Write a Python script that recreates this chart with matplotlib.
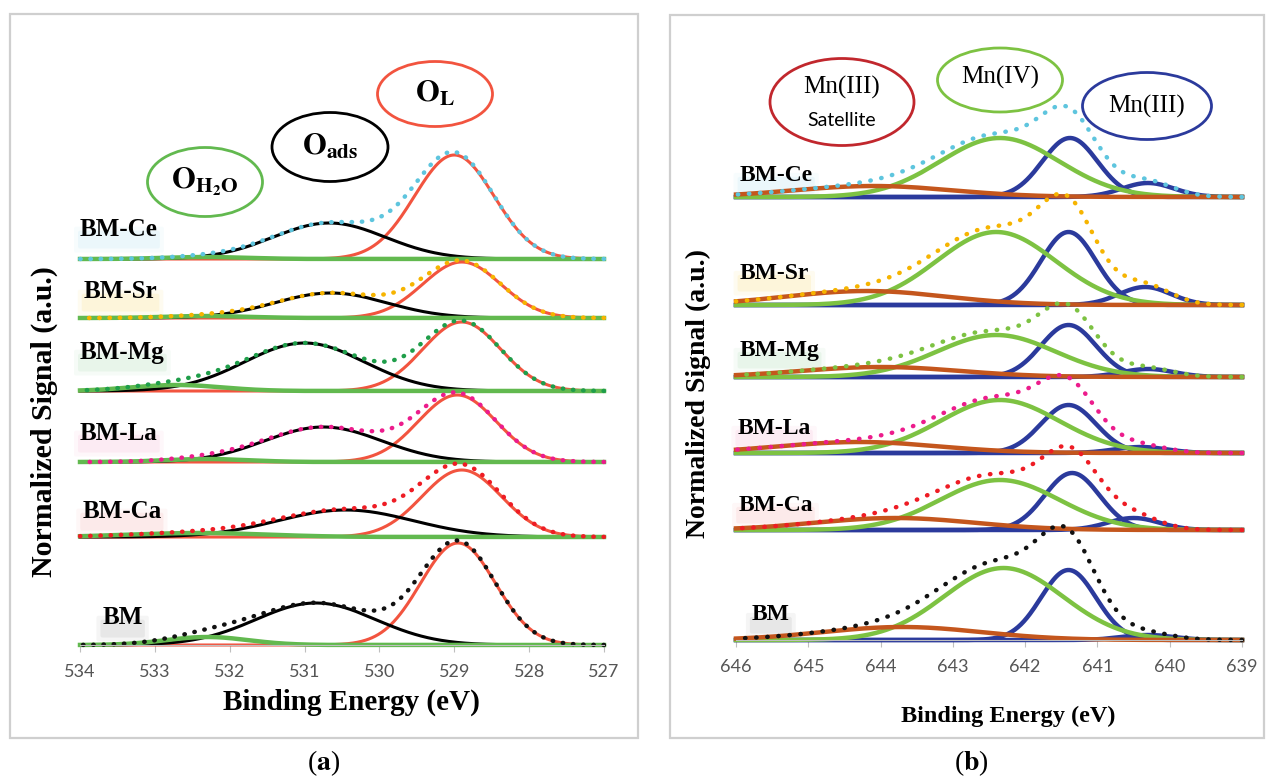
import numpy as np
import matplotlib
matplotlib.use('Agg')
import matplotlib.pyplot as plt
import matplotlib.transforms as mtransforms
from matplotlib.patches import Ellipse, Rectangle, FancyBboxPatch

plt.rcParams['font.family'] = ['Liberation Serif', 'DejaVu Serif']
plt.rcParams['mathtext.fontset'] = 'stix'

# ---- O 1s panel (a): peak parameters (heights in px units)
samples = ['BM-Ce', 'BM-Sr', 'BM-Mg', 'BM-La', 'BM-Ca', 'BM']
env_colors = ['#5ec5de', '#f6b400', '#1f9e4a', '#ec1c8c', '#ee1c24', '#111111']
glow_colors = ['#9fdcef', '#f7d24a', '#8fd39a', '#f59cc8', '#f59a9a', '#8a8a8a']

o_offset = [386, 327, 254, 183, 108, 0]
ol_center = [529.0, 528.9, 528.9, 528.96, 528.9, 528.95]
ol_height = [104, 56, 69, 67, 67, 102]
ol_sigma = [0.53, 0.52, 0.52, 0.52, 0.53, 0.5]
oads_center = [530.67, 530.65, 531.0, 530.75, 530.45, 530.85]
oads_height = [36, 25, 48, 35, 27, 42]
oads_sigma = [0.75, 0.75, 0.8, 0.78, 0.9, 0.8]
oh2o_center = [532.3, 532.3, 532.7, 532.3, 532.4, 532.3]
oh2o_height = [2, 2, 6, 3, 4, 8]
oh2o_sigma = [0.55, 0.55, 0.6, 0.55, 0.9, 0.55]

# ---- Mn 2p panel (b)
mn_offset = [443, 335, 263, 187, 110, 0]
mn3_center = [641.38, 641.4, 641.4, 641.4, 641.35, 641.4]
mn3_height = [59, 73, 52, 48, 57, 70]
mn3b_center = [640.3, 640.34, 640.3, 640.4, 640.5, 640.3]
mn3b_height = [14, 18, 8, 6, 12, 5]
mn4_center = [642.35, 642.4, 642.4, 642.35, 642.35, 642.3]
mn4_height = [59, 73, 42, 53, 50, 72]
sat_center = [644.1, 644.2, 644.0, 644.3, 643.8, 643.7]
sat_height = [11, 14, 10, 11, 12, 13]
mn_env_colors = ['#5ec5de', '#f6b400', '#7dc242', '#ec1c8c', '#ee1c24', '#111111']

o_ticks = [534, 533, 532, 531, 530, 529, 528, 527]
mn_ticks = [646, 645, 644, 643, 642, 641, 640, 639]


def gauss(x, c, h, s):
    return h * np.exp(-0.5 * ((x - c) / s) ** 2)


W, H = 1266, 779
fig = plt.figure(figsize=(W / 100, H / 100), dpi=100)
px = mtransforms.Affine2D().scale(1, -1).translate(0, H)


def axes_px(x0, y0, x1, y1):
    return fig.add_axes([x0 / W, 1 - y1 / H, (x1 - x0) / W, (y1 - y0) / H])


def style_axis(ax, ticks):
    for s in ['top', 'right', 'left']:
        ax.spines[s].set_visible(False)
    ax.spines['bottom'].set_color('#bfbfbf')
    ax.set_yticks([])
    ax.set_xticks(ticks)
    ax.set_xticklabels([str(t) for t in ticks], family='Lato', fontsize=13, color='#555555')
    ax.tick_params(axis='x', length=5, color='#bfbfbf', pad=9)
    ax.patch.set_alpha(0)


name_texts = []


def label(ax, x, y, txt, glow, size):
    t = ax.text(x, y, txt, fontsize=size, fontweight='bold', va='center', ha='left', zorder=5)
    name_texts.append((t, glow))


# panel boxes
fig.add_artist(Rectangle((10, 14), 628, 724, transform=px, fill=False, ec='#cfcfcf', lw=1.6))
fig.add_artist(Rectangle((670, 15), 594, 723, transform=px, fill=False, ec='#cfcfcf', lw=1.6))

# ---------------- panel (a)
ax1 = axes_px(80, 60, 604, 645)
ax1.set_xlim(534, 527)
ax1.set_ylim(0, 585)
style_axis(ax1, o_ticks)
x = np.linspace(527, 534, 500)
o_lab_dx = [0, 0.05, 0, 0, 0.03, 0.3]
o_lab_dy = [30, 26, 39, 29, 26, 27]
for i, name in enumerate(samples):
    off = o_offset[i]
    ol = gauss(x, ol_center[i], ol_height[i], ol_sigma[i])
    oa = gauss(x, oads_center[i], oads_height[i], oads_sigma[i])
    ow = gauss(x, oh2o_center[i], oh2o_height[i], oh2o_sigma[i])
    ax1.plot(x, off + ol, color='#f2543f', lw=2.2, clip_on=False)
    ax1.plot(x, off + oa, color='black', lw=2.2, clip_on=False)
    ax1.plot(x, off + ow, color='#62b94f', lw=3.2, clip_on=False)
    ax1.plot(x, off + ol + oa + ow, color=env_colors[i], lw=3.2, ls=(0, (0.1, 2.2)),
             dash_capstyle='round', clip_on=False)
    label(ax1, 534 - o_lab_dx[i], off + o_lab_dy[i], name, glow_colors[i], 18)
ax1.set_xlabel('Binding Energy (eV)', fontsize=21, fontweight='bold')
ax1.xaxis.set_label_coords(0.518, -0.075)

fig.text(44, 422, 'Normalized Signal (a.u.)', transform=px, rotation=90, fontsize=21.5,
         fontweight='bold', ha='center', va='center')

for (cx, cy, w, h, ec, txt) in [(205, 182, 115, 69, '#62b94f', r'$\mathbf{O_{H_2O}}$'),
                               (330, 147, 116, 69, 'black', r'$\mathbf{O_{ads}}$'),
                               (435, 94, 115, 65, '#f2543f', r'$\mathbf{O_{L}}$')]:
    fig.add_artist(Ellipse((cx, cy), w, h, transform=px, fill=False, ec=ec, lw=2))
    fig.text(cx, cy, txt, transform=px, fontsize=22, ha='center', va='center')

# ---------------- panel (b)
ax2 = axes_px(736, 40, 1242, 640)
ax2.set_xlim(646, 639)
ax2.set_ylim(0, 600)
style_axis(ax2, mn_ticks)
x2 = np.linspace(639, 646, 500)
mn_lab_dx = [0.05, 0.05, 0.05, 0.02, 0.03, 0.22]
mn_lab_dy = [22, 32, 27, 25, 25, 25]
for i, name in enumerate(samples):
    off = mn_offset[i]
    b1 = gauss(x2, mn3_center[i], mn3_height[i], 0.38)
    b2 = gauss(x2, mn3b_center[i], mn3b_height[i], 0.36)
    g = gauss(x2, mn4_center[i], mn4_height[i], 0.82)
    s = gauss(x2, sat_center[i], sat_height[i], 1.1)
    ax2.plot(x2, off + b1, color='#2b3a9c', lw=3.2, clip_on=False)
    ax2.plot(x2, off + b2, color='#2b3a9c', lw=3.2, clip_on=False)
    ax2.plot(x2, off + g, color='#7dc242', lw=3.2, clip_on=False)
    ax2.plot(x2, off + s, color='#c4561d', lw=3.2, clip_on=False)
    ax2.plot(x2, off + b1 + b2 + g + s, color=mn_env_colors[i], lw=3.2, ls=(0, (0.1, 2.4)),
             dash_capstyle='round', clip_on=False)
    label(ax2, 646 - mn_lab_dx[i], off + mn_lab_dy[i], name, glow_colors[i], 17)
ax2.set_xlabel('Binding Energy (eV)', fontsize=17.5, fontweight='bold')
ax2.xaxis.set_label_coords(0.538, -0.11)

fig.text(698, 394, 'Normalized Signal (a.u.)', transform=px, rotation=90, fontsize=20,
         fontweight='bold', ha='center', va='center')

fig.add_artist(Ellipse((842, 102), 144, 87, transform=px, fill=False, ec='#c1272d', lw=2))
fig.text(842, 87, 'Mn(III)', transform=px, fontsize=18, ha='center', va='center')
fig.text(842, 120, 'Satellite', transform=px, fontsize=14, family='Lato', ha='center', va='center')
fig.add_artist(Ellipse((1000, 80), 125, 64, transform=px, fill=False, ec='#7dc242', lw=2))
fig.text(1000, 77, 'Mn(IV)', transform=px, fontsize=18, ha='center', va='center')
fig.add_artist(Ellipse((1147, 106), 129, 67, transform=px, fill=False, ec='#2b3a9c', lw=2))
fig.text(1147, 106, 'Mn(III)', transform=px, fontsize=18, ha='center', va='center')

# captions
fig.text(324, 763, r'($\mathbf{a}$)', transform=px, fontsize=20, ha='center', va='center')
fig.text(971, 763, r'($\mathbf{b}$)', transform=px, fontsize=20, ha='center', va='center')

# soft coloured smudges under the sample names
renderer = fig.canvas.get_renderer()
for t, glow in name_texts:
    bb = t.get_window_extent(renderer)
    for grow, a in [(4, 0.08), (0, 0.13)]:
        fig.add_artist(FancyBboxPatch((bb.x0 - grow, bb.y0 - 6 - grow), bb.width + 2 * grow,
                                      bb.height * 0.6 + 2 * grow, boxstyle='round,pad=2',
                                      transform=None, fc=glow, ec='none', alpha=a, zorder=-1))

fig.savefig('out.png', dpi=100)
